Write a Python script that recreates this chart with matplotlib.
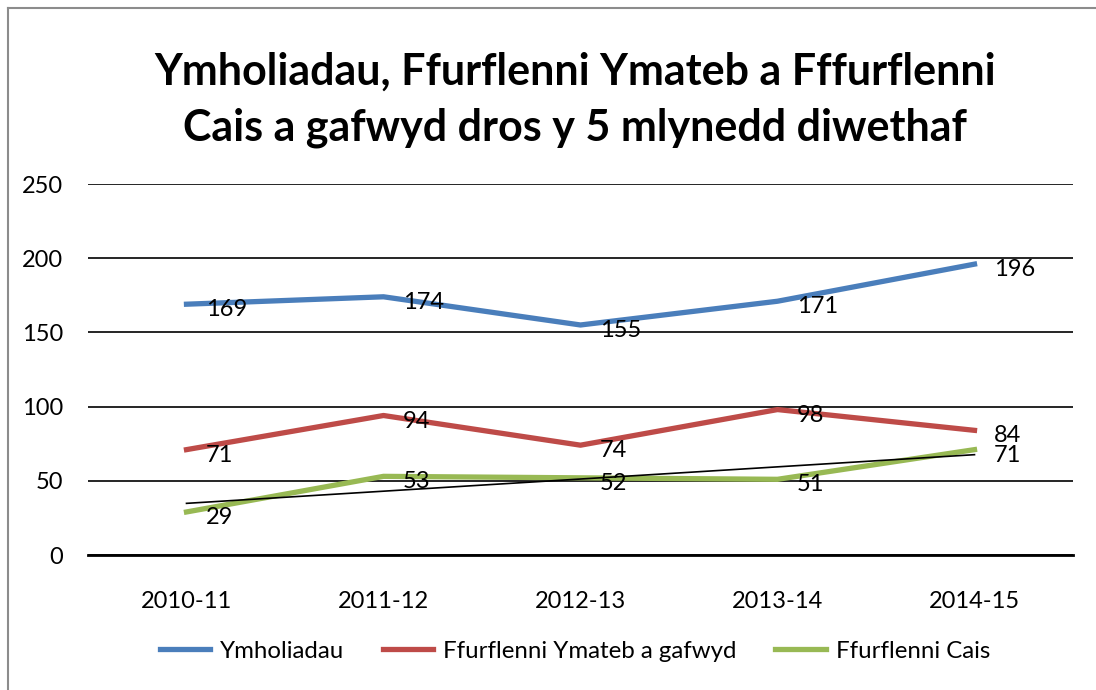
import matplotlib
matplotlib.use("Agg")
import matplotlib.pyplot as plt
import numpy as np
from matplotlib.lines import Line2D

categories = ["2010-11", "2011-12", "2012-13", "2013-14", "2014-15"]
ymholiadau = [169, 174, 155, 171, 196]
ymateb = [71, 94, 74, 98, 84]
cais = [29, 53, 52, 51, 71]
series_names = ["Ymholiadau", "Ffurflenni Ymateb a gafwyd", "Ffurflenni Cais"]
colors = ["#4a7ebb", "#be4b48", "#98b954"]
title = "Ymholiadau, Ffurflenni Ymateb a Fffurflenni\nCais a gafwyd dros y 5 mlynedd diwethaf"

plt.rcParams['font.family'] = ['Lato', 'DejaVu Sans']

fig = plt.figure(figsize=(10.96, 6.90), dpi=100)
W, H = 1096, 690
fig.lines.append(Line2D([8/W, 8/W], [0, 1 - 8/H], transform=fig.transFigure, color="#8c8c8c", linewidth=1.5))
fig.lines.append(Line2D([8/W, 1.05], [1 - 8/H, 1 - 8/H], transform=fig.transFigure, color="#8c8c8c", linewidth=1.5))
ax = fig.add_axes([88/W, 135/H, (1073-88)/W, (555-184)/H])

x = np.arange(len(categories))
for vals, name, c in zip([ymholiadau, ymateb, cais], series_names, colors):
    ax.plot(x, vals, color=c, linewidth=3.8, label=name, solid_joinstyle='round', zorder=3)
    for xi, v in zip(x, vals):
        ax.annotate(str(v), (xi, v), xytext=(14, -4), textcoords='offset points',
                    ha='left', va='center', fontsize=17, zorder=5)

coef = np.polyfit(x, cais, 1)
ax.plot(x, np.polyval(coef, x), color='black', linewidth=1.2, zorder=4)

ax.set_xlim(-0.5, 4.5)
ax.set_ylim(0, 250)
ax.set_yticks([0, 50, 100, 150, 200, 250])
ax.set_xticks(x)
ax.set_xticklabels(categories)
ax.yaxis.grid(True, color='black', linewidth=1.2)
ax.set_axisbelow(True)
for s in ['top', 'right', 'left']:
    ax.spines[s].set_visible(False)
ax.spines['bottom'].set_linewidth(2)
ax.tick_params(axis='both', length=0, labelsize=17)
ax.tick_params(axis='x', pad=26)
ax.tick_params(axis='y', pad=18)

fig.text(575/W, 1 - 100/H, title, ha='center', va='center', fontsize=31,
         fontweight='bold', linespacing=1.5)

fig.legend(loc='center', bbox_to_anchor=(575/W, 1 - 651/H), ncol=3, frameon=False,
           fontsize=17.3, handlelength=2.1, columnspacing=1.6, handletextpad=0.42)

fig.savefig("out.png", dpi=100)
